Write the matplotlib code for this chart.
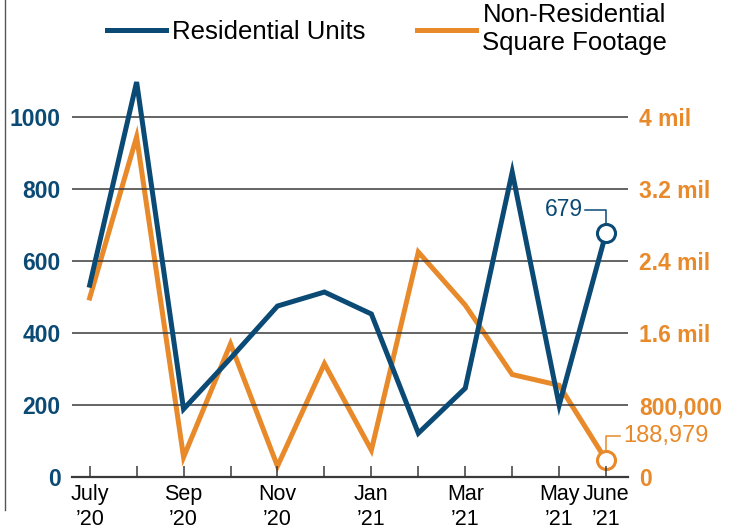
import matplotlib.pyplot as plt
from matplotlib.lines import Line2D

plt.rcParams['font.family'] = ['Liberation Sans', 'DejaVu Sans']

# data
months = ['Jul', 'Aug', 'Sep', 'Oct', 'Nov', 'Dec', 'Jan', 'Feb', 'Mar', 'Apr', 'May', 'Jun']
residential = [533, 1097, 189, 330, 475, 514, 453, 122, 247, 847, 200, 679]
non_residential = [1990000, 3780000, 222000, 1480000, 122000, 1260000, 300000,
                   2500000, 1910000, 1140000, 1020000, 188979]
tick_labels = ['July\n\u201920', '', 'Sep\n\u201920', '', 'Nov\n\u201920', '', 'Jan\n\u201921', '',
               'Mar\n\u201921', '', 'May\n\u201921', 'June\n\u201921']
left_ticks = [0, 200, 400, 600, 800, 1000]
right_ticks = [0, 800000, 1600000, 2400000, 3200000, 4000000]
right_labels = ['0', '800,000', '1.6 mil', '2.4 mil', '3.2 mil', '4 mil']

blue = '#0b4a75'
orange = '#e8892a'
grid = '#3a3a3a'

fig = plt.figure(figsize=(7.33, 5.29), dpi=100)
ax = fig.add_axes([0.098, 0.098, 0.759, 0.783])
ax2 = ax.twinx()

x = list(range(len(months)))
ax.set_xlim(-0.38, 11.47)
ax.set_ylim(0, 1150)
ax2.set_ylim(0, 1150 * 4000)

for v in left_ticks[1:]:
    ax.axhline(v, color=grid, lw=1.1, zorder=1)

ax.plot(x, residential, color=blue, lw=3.6, solid_joinstyle='miter', zorder=4)
ax2.plot(x, non_residential, color=orange, lw=3.6, solid_joinstyle='miter', zorder=3)
ax.set_zorder(ax2.get_zorder() + 1)
ax.patch.set_visible(False)

# end markers
ax.plot(x[-1], residential[-1], 'o', ms=13, mfc='white', mec=blue, mew=2.2, zorder=5)
ax2.plot(x[-1], non_residential[-1], 'o', ms=13, mfc='white', mec=orange, mew=2.2, zorder=5)

# annotations with leader lines
ax.plot([x[-1] - 0.45, x[-1], x[-1]], [742, 742, 705], color=blue, lw=1.1, zorder=5)
ax.text(x[-1] - 0.5, 742, '679', color=blue, fontsize=16.5, ha='right', va='center')
ax2.plot([x[-1] + 0.3, x[-1], x[-1]], [455000, 455000, 260000], color=orange, lw=1.1)
ax2.text(x[-1] + 0.36, 455000, '188,979', color=orange, fontsize=17, ha='left', va='center')

for s in ['top', 'right', 'left']:
    ax.spines[s].set_visible(False)
    ax2.spines[s].set_visible(False)
ax2.spines['bottom'].set_visible(False)
ax.spines['bottom'].set_color(grid)
ax.spines['bottom'].set_linewidth(1.6)

ax.set_xticks(x)
ax.set_xticklabels(tick_labels, fontsize=15.5, linespacing=1.25)
ax.tick_params(axis='x', direction='in', length=8, width=1.1, color=grid, pad=5)

ax.set_yticks(left_ticks)
ax.set_yticklabels([str(v) for v in left_ticks], color=blue, fontsize=16.5, fontweight='bold')
ax.tick_params(axis='y', length=0, pad=8)
ax2.set_yticks(right_ticks)
ax2.set_yticklabels(right_labels, color=orange, fontsize=16.5, fontweight='bold')
ax2.tick_params(axis='y', length=0, pad=8)

# legend
handles = [Line2D([], [], color=blue, lw=3.6), Line2D([], [], color=orange, lw=3.6)]
fig.legend(handles, ['Residential Units', 'Non-Residential\nSquare Footage'],
           loc='center', bbox_to_anchor=(0.528, 0.945), ncol=2, frameon=False,
           fontsize=18.5, handlelength=2.3, handletextpad=0.25, columnspacing=2.0,
           labelspacing=0.2)

# left border line
fig.add_artist(Line2D([0.007, 0.007], [0.035, 1.0], color='#555555', lw=1.0))

fig.savefig('out.png', dpi=100)
